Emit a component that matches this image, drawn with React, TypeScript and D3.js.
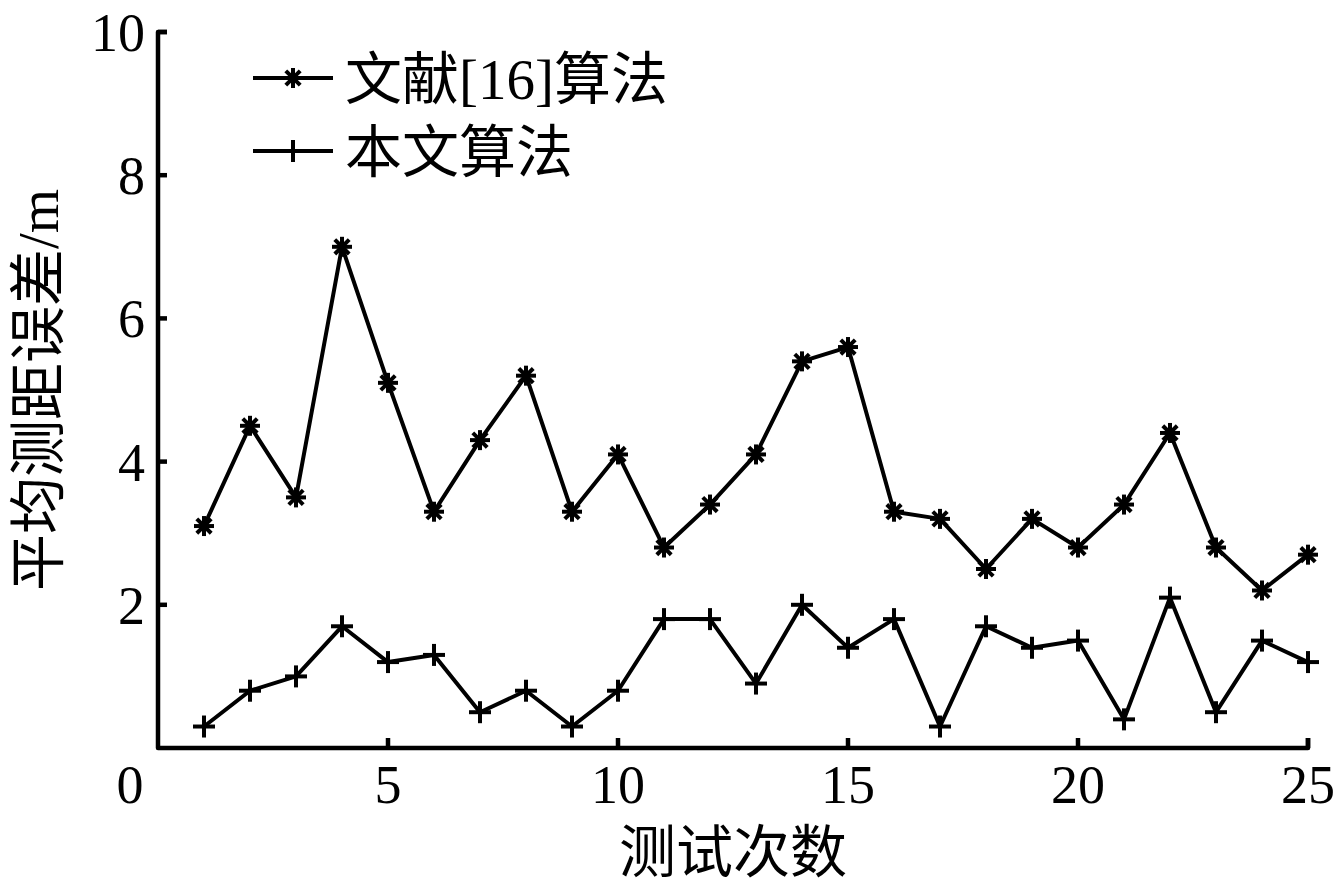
import React from "react";
import * as d3 from "d3";

const trials = d3.range(1, 26);
const refSeries = [3.1, 4.5, 3.5, 7.0, 5.1, 3.3, 4.3, 5.2, 3.3, 4.1, 2.8, 3.4, 4.1, 5.4, 5.6, 3.3, 3.2, 2.5, 3.2, 2.8, 3.4, 4.4, 2.8, 2.2, 2.7];
const oursSeries = [0.3, 0.8, 1.0, 1.7, 1.2, 1.3, 0.5, 0.8, 0.3, 0.8, 1.8, 1.8, 0.9, 2.0, 1.4, 1.8, 0.3, 1.7, 1.4, 1.5, 0.4, 2.1, 0.5, 1.5, 1.2];
const xTicks = [5, 10, 15, 20, 25];
const yTicks = [2, 4, 6, 8, 10];
const legendLabels = ["文献[16]算法", "本文算法"];
const xLabel = "测试次数";
const yLabel = "平均测距误差/m";

const W = 1337, H = 885;
const left = 158, right = 1308, top = 32, bottom = 748;
const serif = "'Liberation Serif', 'Times New Roman', 'Noto Sans CJK SC', serif";
const SW = 4;

function Star({ x, y, r = 10 }: { x: number; y: number; r?: number }) {
  const d = r * 0.72;
  return (
    <g stroke="#000" strokeWidth={SW}>
      <line x1={x - r} y1={y} x2={x + r} y2={y} />
      <line x1={x} y1={y - r} x2={x} y2={y + r} />
      <line x1={x - d} y1={y - d} x2={x + d} y2={y + d} />
      <line x1={x - d} y1={y + d} x2={x + d} y2={y - d} />
    </g>
  );
}
function Plus({ x, y, r = 11 }: { x: number; y: number; r?: number }) {
  return (
    <g stroke="#000" strokeWidth={SW}>
      <line x1={x - r} y1={y} x2={x + r} y2={y} />
      <line x1={x} y1={y - r} x2={x} y2={y + r} />
    </g>
  );
}

export default function App() {
  const xs = d3.scaleLinear().domain([0, 25]).range([left, right]);
  const ys = d3.scaleLinear().domain([0, 10]).range([bottom, top]);
  const line = d3.line<number>().x((_, i) => xs(trials[i])).y((v) => ys(v));
  return (
    <svg width={W} height={H} style={{ position: "absolute", left: 0, top: 0, background: "#fff" }}>
      <rect width={W} height={H} fill="#fff" />
      <path d={`M${left + 9},${top}H${left}V${bottom}H${right}V${bottom - 10}`} fill="none" stroke="#000" strokeWidth={4.5} strokeLinejoin="round" />
      {yTicks.map((t) => (
        <g key={t}>
          <line x1={left} x2={left + 9} y1={ys(t)} y2={ys(t)} stroke="#000" strokeWidth={4.5} />
          <text x={left - 13} y={ys(t)} dy="0.35em" textAnchor="end" fontFamily={serif} fontSize={54}>{t}</text>
        </g>
      ))}
      {xTicks.map((t) => (
        <g key={t}>
          <line x1={xs(t)} x2={xs(t)} y1={bottom} y2={bottom - 10} stroke="#000" strokeWidth={4.5} />
          <text x={xs(t)} y={bottom + 55} textAnchor="middle" fontFamily={serif} fontSize={54}>{t}</text>
        </g>
      ))}
      <text x={xs(0) - 28} y={bottom + 55} textAnchor="middle" fontFamily={serif} fontSize={54}>0</text>
      <path d={line(refSeries) || ""} fill="none" stroke="#000" strokeWidth={SW} strokeLinejoin="round" />
      <path d={line(oursSeries) || ""} fill="none" stroke="#000" strokeWidth={SW} strokeLinejoin="round" />
      {refSeries.map((v, i) => <Star key={"s" + i} x={xs(trials[i])} y={ys(v)} />)}
      {oursSeries.map((v, i) => <Plus key={"p" + i} x={xs(trials[i])} y={ys(v)} />)}
      <line x1={253} x2={333} y1={78} y2={78} stroke="#000" strokeWidth={SW} />
      <Star x={293} y={78} />
      <text x={345} y={78} dy="0.36em" fontFamily={serif} fontSize={57}>{legendLabels[0]}</text>
      <line x1={253} x2={333} y1={151} y2={151} stroke="#000" strokeWidth={SW} />
      <Plus x={293} y={151} />
      <text x={345} y={151} dy="0.36em" fontFamily={serif} fontSize={57}>{legendLabels[1]}</text>
      <text x={733} y={872} textAnchor="middle" fontFamily={serif} fontSize={57}>{xLabel}</text>
      <text transform={`translate(58,390) rotate(-90)`} textAnchor="middle" fontFamily={serif} fontSize={57}>{yLabel}</text>
    </svg>
  );
}
